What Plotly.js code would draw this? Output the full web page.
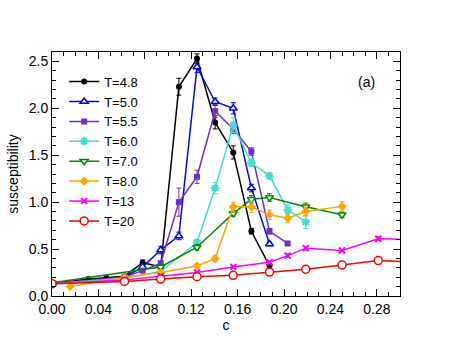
<!DOCTYPE html>
<html>
<head>
<meta charset="utf-8">
<script src="https://cdn.plot.ly/plotly-3.0.1.min.js"></script>
<style>
  html, body { margin: 0; padding: 0; background: #fff; }
  #chart { width: 463px; height: 358px; }
</style>
</head>
<body>
<div id="chart"></div>
<script>
// concentration c and susceptibility for each temperature
const c48 = [0, 0.03125, 0.046875, 0.0625, 0.078125, 0.09375, 0.109375, 0.125, 0.140625, 0.15625, 0.171875, 0.1875];
const s48 = [0.13, 0.18, 0.195, 0.21, 0.355, 0.31, 2.23, 2.53, 1.85, 1.53, 0.69, 0.32];
const e48 = [0, 0, 0, 0, 0.03, 0.02, 0.09, 0.05, 0.07, 0.07, 0.03, 0.02];

const c50 = [0, 0.0625, 0.078125, 0.09375, 0.109375, 0.125, 0.140625, 0.15625, 0.171875, 0.1875];
const s50 = [0.13, 0.2, 0.31, 0.49, 0.64, 2.44, 2.07, 2.0, 1.15, 0.555];
const e50 = [0, 0, 0.02, 0.04, 0.04, 0.06, 0.04, 0.06, 0.04, 0.02];

const c55 = [0, 0.0625, 0.078125, 0.09375, 0.109375, 0.125, 0.140625, 0.15625, 0.171875, 0.1875, 0.203125];
const s55 = [0.13, 0.2, 0.27, 0.35, 1.0, 1.27, 1.97, 1.78, 1.54, 0.69, 0.56];
const e55 = [0, 0, 0, 0, 0.15, 0.07, 0.07, 0.05, 0.04, 0.03, 0.02];

const c60 = [0, 0.0625, 0.09375, 0.125, 0.140625, 0.15625, 0.171875, 0.1875, 0.203125, 0.21875];
const s60 = [0.13, 0.19, 0.26, 0.57, 1.15, 1.82, 1.42, 1.28, 0.92, 0.79];
const e60 = [0, 0, 0, 0.03, 0.06, 0.08, 0.04, 0.03, 0.05, 0.07];

const c70 = [0, 0.09375, 0.125, 0.15625, 0.171875, 0.1875, 0.21875, 0.25];
const s70 = [0.14, 0.31, 0.52, 0.88, 1.03, 1.05, 0.95, 0.865];
const e70 = [0, 0.02, 0.03, 0.03, 0.04, 0.04, 0.04, 0.03];

const c80 = [0.015625, 0.0625, 0.09375, 0.125, 0.140625, 0.15625, 0.171875, 0.1875, 0.203125, 0.21875, 0.25];
const s80 = [0.1, 0.2, 0.25, 0.32, 0.4, 0.95, 0.95, 0.865, 0.83, 0.9, 0.955];
const e80 = [0, 0, 0.02, 0.02, 0.03, 0.05, 0.06, 0.05, 0.05, 0.05, 0.05];

const c13 = [0, 0.0625, 0.09375, 0.125, 0.15625, 0.1875, 0.203125, 0.21875, 0.25, 0.28125, 0.3125];
const s13 = [0.13, 0.17, 0.21, 0.25, 0.31, 0.36, 0.43, 0.51, 0.485, 0.61, 0.60];
const e13 = [0, 0, 0, 0, 0.01, 0.01, 0.02, 0.02, 0.01, 0.02, 0];

const c20 = [0, 0.0625, 0.09375, 0.125, 0.15625, 0.1875, 0.21875, 0.25, 0.28125, 0.3125];
const s20 = [0.13, 0.155, 0.18, 0.205, 0.22, 0.255, 0.285, 0.33, 0.377, 0.36];

// fill: 'solid' = filled marker, 'white' = hollow with white inside, 'none' = open stroke symbol
function series(name, x, y, err, color, symbol, size, fill) {
  let marker;
  if (fill === 'solid') marker = { symbol: symbol, size: size, color: color, line: { width: 0 } };
  else if (fill === 'white') marker = { symbol: symbol, size: size, color: '#fff', line: { color: color, width: 1.5 } };
  else marker = { symbol: symbol, size: size, color: color, line: { color: color, width: 2 } };
  const t = {
    x: x, y: y, name: name,
    type: 'scatter', mode: 'lines+markers',
    line: { color: color, width: 1.5 },
    marker: marker
  };
  if (err) t.error_y = { type: 'data', array: err, visible: true, width: 2.5, thickness: 1, color: color };
  return t;
}

const data = [
  series('T=4.8', c48, s48, e48, '#000000', 'circle', 6, 'solid'),
  series('T=5.0', c50, s50, e50, '#0000ff', 'triangle-up', 7, 'white'),
  series('T=5.5', c55, s55, e55, '#7030c0', 'square', 6, 'solid'),
  series('T=6.0', c60, s60, e60, '#40e0d0', 'asterisk-open', 7, 'none'),
  series('T=7.0', c70, s70, e70, '#008c00', 'triangle-down', 7, 'white'),
  series('T=8.0', c80, s80, e80, '#ffa500', 'diamond', 7, 'solid'),
  series('T=13', c13, s13, e13, '#ff00ff', 'x-thin-open', 6, 'none'),
  series('T=20', c20, s20, null, '#ff0000', 'circle', 8, 'white')
];

const axisFont = { family: 'Liberation Sans, Arial, sans-serif', size: 14, color: '#000' };

const layout = {
  width: 463, height: 358,
  margin: { l: 52, r: 63, t: 52, b: 62 },
  paper_bgcolor: '#fff', plot_bgcolor: '#fff',
  font: axisFont,
  showlegend: true,
  legend: {
    x: 0.035, y: 0.94, xanchor: 'left', yanchor: 'top',
    bgcolor: 'rgba(0,0,0,0)', borderwidth: 0,
    font: { family: 'Liberation Sans, Arial, sans-serif', size: 13, color: '#000' },
    itemwidth: 30
  },
  xaxis: {
    range: [0, 0.30], dtick: 0.04, tick0: 0, tickformat: '.2f',
    ticks: 'inside', ticklen: 7, tickcolor: '#000',
    minor: { dtick: 0.01, ticks: 'inside', ticklen: 4, tickcolor: '#000' },
    showline: true, linecolor: '#000', linewidth: 1, mirror: 'allticks',
    showgrid: false, zeroline: false, tickfont: axisFont,
    title: { text: 'c', font: axisFont, standoff: 2 }
  },
  yaxis: {
    range: [0, 2.6], dtick: 0.5, tick0: 0, tickformat: '.1f',
    ticks: 'inside', ticklen: 7, tickcolor: '#000',
    minor: { dtick: 0.1, ticks: 'inside', ticklen: 4, tickcolor: '#000' },
    showline: true, linecolor: '#000', linewidth: 1, mirror: 'allticks',
    showgrid: false, zeroline: false, tickfont: axisFont,
    title: { text: 'susceptibility', font: axisFont, standoff: 6 }
  },
  annotations: [{
    text: '(a)', xref: 'paper', yref: 'paper', x: 0.934, y: 0.92,
    showarrow: false, font: axisFont
  }]
};

Plotly.newPlot('chart', data, layout, { displayModeBar: false, staticPlot: true });
</script>
</body>
</html>
